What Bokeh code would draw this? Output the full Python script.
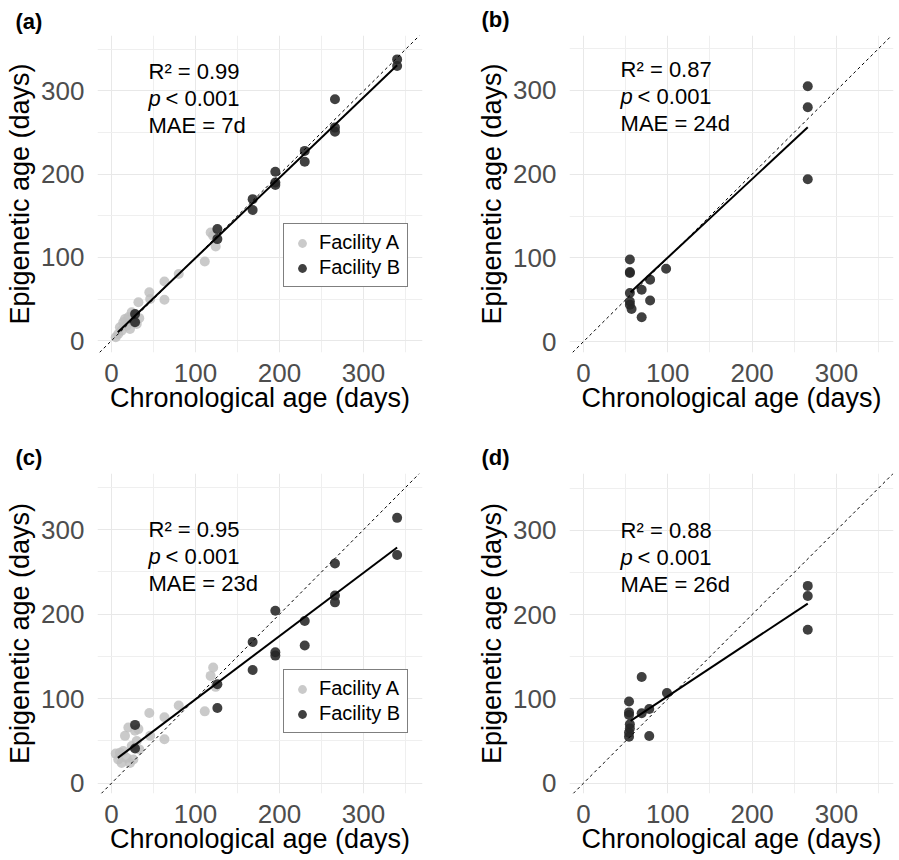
from bokeh.plotting import figure
from bokeh.models import Range1d, FixedTicker, Slope, Label, Legend, LegendItem
from bokeh.layouts import column, row
from bokeh.embed import file_html
from bokeh.resources import INLINE

FONT = "Liberation Sans"

major_ticks = [0, 100, 200, 300]
minor_ticks = [50, 150, 250, 350]

# ---- Panel (a): Facility A + B ----
a_A_x = [5, 8, 10, 12, 14, 16, 18, 20, 22, 24, 26, 28, 30, 33, 32, 45, 46, 63, 63, 80, 111, 118, 121, 124]
a_A_y = [4, 8, 16, 12, 22, 26, 18, 28, 14, 34, 22, 30, 20, 27, 46, 58, 50, 71, 49, 80, 95, 130, 126, 113]
a_B_x = [28, 28, 126, 126, 168, 168, 195, 195, 195, 230, 230, 266, 266, 266, 340, 340]
a_B_y = [32, 22, 134, 122, 170, 157, 203, 190, 187, 228, 215, 290, 256, 251, 338, 330]
a_fit_x = [7.5, 340]
a_fit_y = [10, 331]
a_stats = ["R² = 0.99", "0.001", "MAE = 7d"]

# ---- Panel (b) ----
b_x = [55, 55, 55, 55, 55, 55, 57, 69, 69, 79, 79, 98, 266, 266, 266]
b_y = [98, 83, 82, 58, 48, 44, 39, 62, 29, 74, 49, 87, 305, 280, 194]
b_fit_x = [55.8, 266]
b_fit_y = [59, 256]
b_stats = ["R² = 0.87", "0.001", "MAE = 24d"]

# ---- Panel (c) ----
c_A_x = [5, 8, 10, 12, 14, 16, 18, 20, 22, 24, 26, 28, 30, 33, 32, 45, 46, 63, 63, 80, 111, 118, 121, 124]
c_A_y = [35, 28, 36, 24, 38, 56, 30, 66, 24, 44, 28, 62, 50, 40, 64, 83, 56, 78, 52, 92, 85, 127, 137, 114]
c_B_x = [28, 28, 126, 126, 168, 168, 195, 195, 195, 230, 230, 266, 266, 266, 340, 340]
c_B_y = [69, 41, 117, 89, 167, 134, 204, 155, 151, 192, 163, 260, 222, 214, 314, 270]
c_fit_x = [7.5, 340]
c_fit_y = [30, 279]
c_stats = ["R² = 0.95", "0.001", "MAE = 23d"]

# ---- Panel (d) ----
d_x = [54, 54, 54, 55, 55, 54, 54, 69, 69, 78, 78, 99, 266, 266, 266]
d_y = [97, 84, 81, 70, 65, 60, 55, 126, 83, 88, 56, 107, 234, 222, 182]
d_fit_x = [55.8, 266]
d_fit_y = [74, 213]
d_stats = ["R² = 0.88", "0.001", "MAE = 26d"]

COL_A = "#bdbdbd"
COL_B = "#262626"


def make_panel(tag, xr, yr, width, height, bl, br, bt, bb, tag_offset, tag_standoff):
    p = figure(width=width, height=height, x_range=Range1d(*xr), y_range=Range1d(*yr),
               output_backend="svg", toolbar_location=None,
               min_border_left=bl, min_border_right=br, min_border_top=bt, min_border_bottom=bb)
    p.outline_line_color = None
    p.background_fill_color = "white"
    p.border_fill_color = "white"
    p.title.text = tag
    p.title.text_font = FONT
    p.title.text_font_size = "22px"
    p.title.text_font_style = "bold"
    p.title.text_color = "black"
    p.title.align = "left"
    p.title.offset = tag_offset
    p.title.standoff = tag_standoff
    for ax in (p.xaxis[0], p.yaxis[0]):
        ax.ticker = FixedTicker(ticks=major_ticks, minor_ticks=minor_ticks)
        ax.axis_line_color = None
        ax.major_tick_line_color = None
        ax.minor_tick_line_color = None
        ax.major_label_text_font = FONT
        ax.major_label_text_font_size = "26px"
        ax.major_label_text_color = "#4d4d4d"
        ax.axis_label_text_font = FONT
        ax.axis_label_text_font_size = "27px"
        ax.axis_label_text_font_style = "normal"
        ax.axis_label_text_color = "black"
    p.xaxis.axis_label = "Chronological age (days)"
    p.yaxis.axis_label = "Epigenetic age (days)"
    p.xaxis.major_label_standoff = 5
    p.yaxis.major_label_standoff = 7
    p.xaxis.axis_label_standoff = -2
    p.yaxis.axis_label_standoff = 3
    for g in (p.xgrid[0], p.ygrid[0]):
        g.grid_line_color = "#e8e8e8"
        g.grid_line_width = 1
        g.minor_grid_line_color = "#efefef"
        g.minor_grid_line_width = 1
    p.add_layout(Slope(gradient=1, y_intercept=0, line_color="black",
                       line_dash="3 3", line_width=1))
    return p


def add_stats(p, stats, y0):
    step = 32
    kw = dict(text_font=FONT, text_font_size="22px", text_baseline="alphabetic", text_color="black")
    p.add_layout(Label(x=44, y=y0, text=stats[0], **kw))
    p.add_layout(Label(x=44, y=y0 - step, text="p", text_font_style="italic", **kw))
    p.add_layout(Label(x=44, y=y0 - step, x_offset=17, text="< " + stats[1], **kw))
    p.add_layout(Label(x=44, y=y0 - 2 * step, text=stats[2], **kw))


def add_legend(p, rA, rB, loc):
    leg = Legend(items=[LegendItem(label="Facility A", renderers=[rA]),
                        LegendItem(label="Facility B", renderers=[rB])],
                 location=loc, orientation="vertical")
    leg.border_line_color = "black"
    leg.border_line_width = 1
    leg.label_text_font = FONT
    leg.label_text_font_size = "20px"
    leg.label_text_color = "black"
    leg.glyph_height = 22
    leg.glyph_width = 22
    leg.label_height = 22
    leg.padding = 7
    leg.spacing = 2
    leg.label_standoff = 6
    leg.margin = 0
    leg.background_fill_alpha = 1
    p.add_layout(leg)


# Panel a
pa = make_panel("(a)", (-16.7, 370.2), (-14.3, 366.7), 450, 420, 97, 28, 32, 68, -82, 4)
rA = pa.scatter(a_A_x, a_A_y, size=10, fill_color=COL_A, fill_alpha=0.8, line_color=None)
rB = pa.scatter(a_B_x, a_B_y, size=10, fill_color=COL_B, fill_alpha=0.88, line_color=None)
pa.line(a_fit_x, a_fit_y, line_color="black", line_width=2)
add_stats(pa, a_stats, 323)
add_legend(pa, rA, rB, (186, 65))

# Panel b
pb = make_panel("(b)", (-16.6, 367.7), (-13.0, 365.6), 449, 420, 119, 6, 35, 64, -88, 7)
pb.scatter(b_x, b_y, size=10, fill_color=COL_B, fill_alpha=0.88, line_color=None)
pb.line(b_fit_x, b_fit_y, line_color="black", line_width=2)
add_stats(pb, b_stats, 325)

# Panel c
pc = make_panel("(c)", (-16.7, 370.2), (-12.2, 366.5), 450, 440, 97, 28, 53, 67, -82, 8)
rA2 = pc.scatter(c_A_x, c_A_y, size=10, fill_color=COL_A, fill_alpha=0.8, line_color=None)
rB2 = pc.scatter(c_B_x, c_B_y, size=10, fill_color=COL_B, fill_alpha=0.88, line_color=None)
pc.line(c_fit_x, c_fit_y, line_color="black", line_width=2)
add_stats(pc, c_stats, 300)
add_legend(pc, rA2, rB2, (186, 60))

# Panel d
pd_ = make_panel("(d)", (-16.6, 367.7), (-12.2, 367.3), 449, 440, 119, 6, 52, 67, -88, 7)
pd_.scatter(d_x, d_y, size=10, fill_color=COL_B, fill_alpha=0.88, line_color=None)
pd_.line(d_fit_x, d_fit_y, line_color="black", line_width=2)
add_stats(pd_, d_stats, 300)

layout = column(row(pa, pb), row(pc, pd_))
open("out.html", "w").write(file_html(layout, INLINE))
